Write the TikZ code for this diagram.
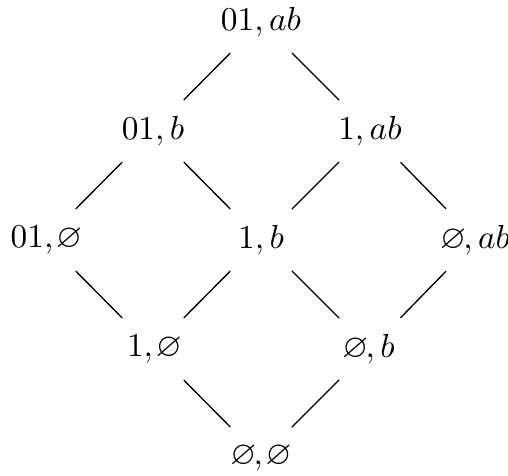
\documentclass[tikz,border=0pt]{standalone}
\usepackage{amssymb}
\newcommand{\myvn}{\mkern-1.5mu\varnothing\mkern-1.5mu}
\begin{document}
\begin{tikzpicture}[x=0.3pt,y=-0.3pt,
  lnk/.style={line width=0.4pt, shorten <=13.1pt, shorten >=13.1pt},
  lbl/.style={inner sep=0pt}]
\useasboundingbox (0,0) rectangle (508,475);
\node[lbl] (top) at (261,22) {$01,ab$};
\node[lbl] (zb) at (153,131) {$01,b$};
\node[lbl] (oab) at (370,131) {$1,ab$};
\node[lbl] (ze) at (45,240) {$01,\myvn$};
\node[lbl] (ob) at (261,240) {$1,b$};
\node[lbl] (eab) at (476.5,240) {$\myvn,ab$};
\node[lbl] (oe) at (153,349) {$1,\myvn$};
\node[lbl] (eb) at (370,349) {$\myvn,b$};
\node[lbl] (ee) at (261,458) {$\myvn,\myvn$};
\draw[lnk] (top.center) -- (zb.center);
\draw[lnk] (top.center) -- (oab.center);
\draw[lnk] (zb.center) -- (ze.center);
\draw[lnk] (zb.center) -- (ob.center);
\draw[lnk] (oab.center) -- (ob.center);
\draw[lnk] (oab.center) -- (eab.center);
\draw[lnk] (ze.center) -- (oe.center);
\draw[lnk] (ob.center) -- (oe.center);
\draw[lnk] (ob.center) -- (eb.center);
\draw[lnk] (eab.center) -- (eb.center);
\draw[lnk] (oe.center) -- (ee.center);
\draw[lnk] (eb.center) -- (ee.center);
\end{tikzpicture}
\end{document}
